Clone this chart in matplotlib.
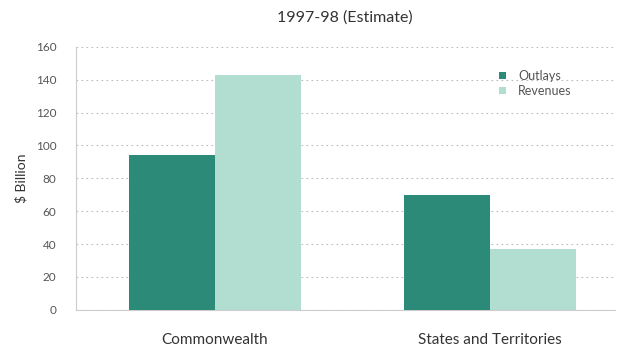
import numpy as np
import matplotlib.pyplot as plt

plt.rcParams['font.family'] = ['Lato', 'DejaVu Sans']

categories = ["Commonwealth", "States and Territories"]
outlays = [94, 70]
revenues = [143, 37]
yticks = [0, 20, 40, 60, 80, 100, 120, 140, 160]

c_out = "#2b8a78"
c_rev = "#b2ddd1"
grey = "#555555"

fig = plt.figure(figsize=(6.21, 3.47), dpi=100)
ax = fig.add_axes([0.122, 0.107, 0.868, 0.758])

x = np.arange(len(categories))
w = 0.313
ax.bar(x - w / 2, outlays, w, color=c_out, label="Outlays", zorder=3)
ax.bar(x + w / 2, revenues, w, color=c_rev, label="Revenues", zorder=3)

ax.set_xlim(-0.505, 1.455)
ax.set_ylim(0, 160)
ax.set_yticks(yticks)
ax.set_yticklabels([str(v) for v in yticks], color=grey, fontsize=8.5)
ax.set_xticks(x)
ax.set_xticklabels(categories, color="#333333", fontsize=11)
ax.tick_params(axis="x", length=0, pad=17)
ax.tick_params(axis="y", length=0, pad=14)

ax.grid(axis="y", linestyle=(0, (1.5, 3)), color="#bbbbbb", linewidth=0.8, zorder=0)
for s in ["top", "right"]:
    ax.spines[s].set_visible(False)
ax.spines["left"].set_color("#cccccc")
ax.spines["bottom"].set_color("#cccccc")

ax.set_ylabel("$ Billion", color="#333333", fontsize=10, labelpad=6)
ax.set_title("1997-98 (Estimate)", color="#333333", fontsize=11.5, pad=18)

leg = ax.legend(loc="upper left", bbox_to_anchor=(0.765, 0.955), frameon=False,
                fontsize=9, handlelength=0.5, handleheight=0.5, handletextpad=1.0,
                labelspacing=0.25)
for t in leg.get_texts():
    t.set_color(grey)

fig.savefig("out.png", dpi=100)
